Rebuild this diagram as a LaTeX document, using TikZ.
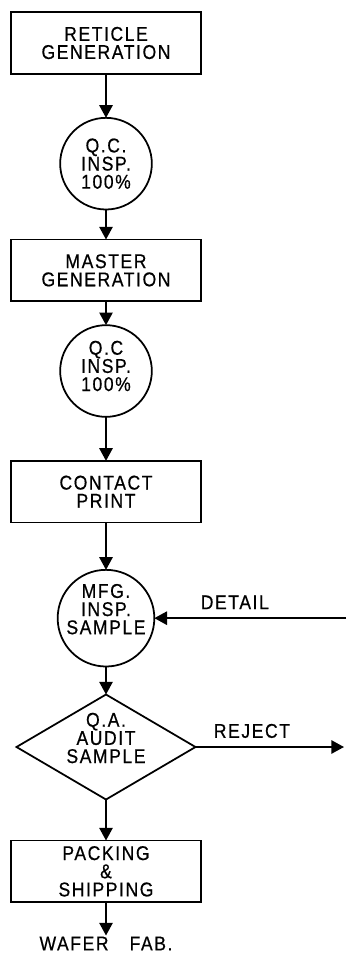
\documentclass[tikz,border=0pt]{standalone}
\usepackage{fontspec}
\setmainfont[FakeStretch=0.88, LetterSpace=8, FakeBold=0.6]{Liberation Sans}
\usetikzlibrary{shapes,arrows.meta,positioning,calc}

\begin{document}
\begin{tikzpicture}[node distance=1.3cm, auto, line width=1.5pt, font=\fontsize{17}{15.5}\selectfont]
  \tikzstyle{block} = [rectangle, draw, minimum width=5.7cm, minimum height=1.85cm, align=center, inner sep=0pt, outer sep=0pt]
  \tikzstyle{insp} = [circle, draw, minimum size=2.75cm, align=center, inner sep=0pt, outer sep=0pt]
  \tikzstyle{audit} = [diamond, draw, aspect=1.7, minimum width=5.37cm, minimum height=3.15cm, align=center, inner sep=0pt, outer sep=0pt]
  \tikzstyle{arrow} = [draw, -{Triangle[length=0.38cm, width=0.4cm]}]
  \tikzstyle{tag} = [inner sep=0pt, outer sep=0pt]
  \tikzstyle{raised} = [align=center, yshift=0.27cm]

  \useasboundingbox (0,0) rectangle (10.38,-28.74);

  \node[block] (reticle) at (3.18,-1.29) {RETICLE\\GENERATION};
  \node[insp, below=1.32cm of reticle] (qcone) {Q.C.\\INSP.\\100\%};
  \node[block, below=0.9cm of qcone] (master) {MASTER\\GENERATION};
  \node[insp, below=0.72cm of master, label={[raised, yshift=-0.12cm]center:{Q.C\\INSP.\\100\%}}] (qctwo) {};
  \node[block, below=1.32cm of qctwo] (contact) {CONTACT\\PRINT};
  \node[insp, minimum size=2.9cm, below=1.42cm of contact, label={[raised]center:{MFG.\\INSP.\\SAMPLE}}] (mfg) {};
  \node[audit, below=0.84cm of mfg, label={[raised]center:{Q.A.\\AUDIT\\SAMPLE}}] (qa) {};
  \node[block, below=1.23cm of qa] (packing) {PACKING\\\&\\SHIPPING};
  \node[tag, inner sep=1pt, below=1.0cm of packing] (wafer) {WAFER\hspace{18pt}FAB.};

  \coordinate (detailsrc) at (mfg -| 10.38,0);
  \coordinate (rejectout) at (qa -| 10.32,0);

  \path[arrow] (reticle) -- (qcone);
  \path[arrow] (qcone) -- (master);
  \path[arrow] (master) -- (qctwo);
  \path[arrow] (qctwo) -- (contact);
  \path[arrow] (contact) -- (mfg);
  \path[arrow] (detailsrc) -- node[tag, above=0.27cm, pos=0.58] {DETAIL} (mfg);
  \path[arrow] (mfg) -- (qa);
  \path[arrow] (qa) -- node[tag, above=0.27cm, pos=0.38] {REJECT} (rejectout);
  \path[arrow] (qa) -- (packing);
  \path[arrow] (packing) -- (wafer);
\end{tikzpicture}
\end{document}
